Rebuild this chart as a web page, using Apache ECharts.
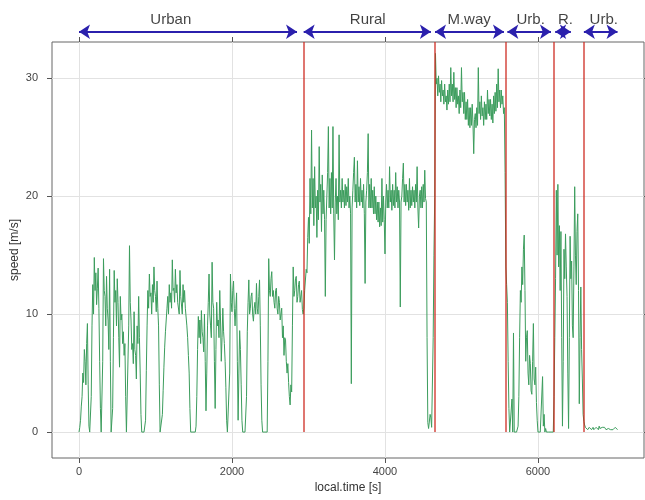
<!DOCTYPE html>
<html>
<head>
<meta charset="utf-8">
<script src="https://cdn.jsdelivr.net/npm/echarts@6/dist/echarts.min.js"></script>
<style>
  html, body { margin: 0; padding: 0; background: #fff; }
  #chart { width: 645px; height: 500px; }
</style>
</head>
<body>
<div id="chart"></div>
<script>
// Vehicle speed log [m/s], one sample every 10 s, split by driving section.
const timeStep = 10;
const sectionStart = [0, 2940, 4660, 5600, 6220, 6600];

const urbanSpeed = [
  0, 0.4, 1.0, 2.2, 3.0, 5.0, 4.2, 7.0, 6.0, 4.0,
  7.5, 9.2, 4.0, 0.5, 0, 0, 3.0, 9.0, 12.5, 10.0,
  14.8, 12.0, 13.5, 10.8, 12.2, 13.9, 10.5, 6.0, 2.0, 0,
  0, 6.0, 14.7, 12.0, 11.5, 9.0, 13.2, 10.5, 9.5, 7.0,
  13.8, 6.0, 0, 0, 2.0, 8.0, 13.7, 11.0, 12.0, 9.0,
  13.0, 11.0, 8.0, 5.5, 11.5, 9.5, 10.0, 7.5, 8.5, 6.5,
  7.5, 3.0, 0, 0, 0, 9.0, 15.8, 11.0, 9.5, 7.0,
  7.5, 5.8, 10.2, 7.0, 6.5, 4.5, 9.0, 7.5, 11.5, 8.0,
  5.0, 1.5, 0, 0, 0, 0, 0, 1.0, 5.2, 9.0,
  12.0, 10.5, 13.4, 11.5, 11.8, 10.0, 12.5, 11.0, 14.0, 12.0,
  11.5, 10.2, 12.8, 10.5, 9.0, 4.0, 0, 0, 0, 1.5,
  3.5, 5.5, 7.2, 8.5, 9.5, 10.5, 11.5, 10.0, 12.5, 11.0,
  11.8, 10.5, 14.6, 12.0, 12.2, 11.0, 13.8, 11.8, 12.5, 11.0,
  11.0, 10.0, 13.7, 11.5, 11.5, 10.0, 12.5, 11.0, 12.0, 10.5,
  10.5, 9.0, 8.0, 6.5, 5.0, 2.0, 0, 0, 0, 0,
  0, 0, 0, 0.5, 3.0, 7.0, 9.8, 8.0, 9.5, 7.5,
  10.3, 8.5, 8.0, 6.8, 10.0, 6.0, 1.8, 5.0, 9.0, 11.0,
  13.4, 10.0, 9.0, 8.0, 14.4, 11.0, 10.5, 6.0, 2.0, 7.0,
  11.0, 9.0, 9.5, 8.0, 12.0, 9.5, 6.0, 8.0, 10.5, 8.5,
  7.5, 6.0, 3.8, 1.0, 0, 0, 0, 5.0, 13.4, 11.0,
  10.2, 12.0, 12.8, 10.5, 9.0, 10.5, 11.8, 6.0, 1.0, 5.0,
  8.6, 7.0, 4.0, 1.0, 0, 0, 0, 0, 0, 3.0,
  8.5, 11.0, 12.9, 10.0, 10.5, 11.5, 11.8, 10.0, 9.4, 10.5,
  11.0, 10.0, 12.6, 10.5, 10.0, 11.5, 12.9, 9.0, 4.0, 1.0,
  0, 0, 0, 0, 0, 0, 0, 6.0, 14.7, 12.0,
  11.5, 13.0, 13.6, 11.5, 12.0, 11.0, 10.5, 12.0, 12.2, 10.5,
  10.0, 11.5, 11.0, 9.5, 9.5, 10.5, 8.0, 9.0, 6.5, 8.0,
  7.8, 6.0, 5.0, 5.8, 4.2, 3.0, 2.3, 4.0, 3.4, 9.0,
  14.0, 11.5, 12.0, 13.0, 13.2, 11.0, 11.5, 12.5, 12.8, 11.0,
  11.0, 12.0, 10.4, 10.0
];

const ruralSpeed = [
  10.5, 12.0, 12.0, 13.8, 13.5, 16.5, 18.2, 16.0, 21.5, 18.5,
  25.6, 19.0, 21.5, 17.5, 22.5, 19.0, 20.0, 16.5, 20.5, 18.0,
  24.2, 19.5, 21.0, 17.0, 21.8, 18.5, 20.5, 18.0, 11.5, 18.0,
  20.0, 22.0, 25.9, 19.0, 21.5, 18.5, 22.0, 19.0, 25.9, 18.5,
  14.6, 19.5, 21.5, 18.5, 20.0, 18.0, 25.2, 19.5, 20.5, 19.0,
  21.5, 19.5, 20.5, 19.0, 21.0, 19.2, 20.8, 19.5, 21.5, 19.0,
  20.0, 18.5, 4.1, 19.0, 20.5, 22.0, 23.3, 19.5, 21.0, 19.0,
  23.0, 19.5, 20.8, 19.2, 21.5, 19.5, 20.5, 19.0, 21.0, 18.5,
  12.6, 19.5, 20.5, 22.0, 25.3, 19.0, 21.0, 19.0, 21.5, 19.0,
  20.5, 18.5, 20.8, 18.5, 20.0, 18.0, 19.5, 17.8, 19.5, 17.4,
  19.0, 17.5, 21.5, 17.8, 20.0, 18.0, 15.1, 19.5, 21.0, 19.0,
  20.5, 19.0, 22.5, 19.5, 20.5, 18.8, 21.0, 19.2, 20.5, 19.0,
  22.0, 19.5, 20.8, 19.0, 20.5, 19.5, 10.6, 19.5, 20.0, 21.5,
  22.8, 19.5, 21.0, 19.2, 21.0, 19.5, 20.5, 18.8, 21.5, 19.0,
  20.5, 19.2, 20.8, 19.5, 20.5, 19.0, 21.0, 19.5, 22.5, 19.0,
  17.3, 20.0, 20.5, 19.0, 20.8, 19.0, 21.0, 19.5, 22.2, 19.8,
  19.5, 8.0, 0.8, 0.3, 0.3, 1.5, 1.2, 0.4, 0.5, 8.0,
  15.0, 19.9
];

const motorwaySpeed = [
  32.1, 29.5, 30.0, 28.5, 30.2, 28.8, 29.5, 28.0, 29.8, 28.5,
  29.0, 27.8, 29.5, 28.0, 28.5, 27.3, 29.0, 27.8, 29.5, 28.0,
  30.9, 28.5, 29.5, 28.0, 30.5, 28.2, 29.2, 27.5, 29.2, 27.8,
  28.5, 27.0, 29.0, 27.5, 30.9, 28.0, 28.8, 27.0, 28.8, 26.5,
  28.0, 26.5, 28.2, 26.0, 27.5, 25.8, 27.5, 26.0, 27.8, 26.2,
  23.6, 26.5, 27.0, 25.8, 27.5, 26.0, 30.9, 27.0, 28.0, 26.5,
  28.5, 26.8, 27.5, 26.0, 28.0, 26.5, 27.8, 26.5, 29.0, 27.0,
  28.2, 26.8, 28.2, 26.5, 27.8, 26.2, 28.5, 27.0, 28.8, 27.2,
  29.5, 27.5, 30.8, 28.0, 29.0, 27.5, 29.0, 27.8, 28.5, 27.0,
  27.5, 22.0, 14.0, 12.5
];

const urbanSpeed2 = [
  11.0, 6.0, 2.0, 0, 0, 0, 2.8, 0, 8.4, 0,
  0, 0, 0, 0, 0.5, 3.0, 8.0, 12.0, 11.0, 14.0,
  12.5, 15.5, 16.7, 12.0, 6.0, 8.0, 8.6, 5.0, 4.0, 6.5,
  5.8, 3.5, 3.2, 6.0, 9.2, 4.5, 4.0, 5.5, 2.5, 1.0,
  0, 0, 0, 0, 0, 0, 4.7, 0.5, 1.5, 0,
  0.3, 0, 0, 0, 0, 0, 0, 0, 0, 0,
  0, 3.0
];

const ruralSpeed2 = [
  8.0, 13.0, 20.5, 15.0, 21.0, 14.0, 17.5, 12.0, 17.0, 8.0,
  0.5, 6.0, 15.5, 13.0, 16.8, 14.0, 11.5, 5.0, 0.3, 8.0,
  16.6, 13.0, 14.5, 9.0, 8.0, 14.0, 20.8, 15.0, 12.5, 17.0,
  18.5, 12.0, 2.4, 8.0, 12.3, 7.0, 4.5, 1.5
];

const urbanSpeed3 = [
  0.9, 0.6, 0.4, 0.3, 0.4, 0.2, 0.3, 0.4, 0.4, 0.3,
  0.2, 0.3, 0.4, 0.2, 0.3, 0.3, 0.4, 0.3, 0.3, 0.2,
  0.5, 0.3, 0.2, 0.3, 0.4, 0.3, 0.3, 0.4, 0.4, 0.2,
  0.2, 0.3, 0.3, 0.4, 0.2, 0.2, 0.3, 0.3, 0.2, 0.2,
  0.3, 0.4, 0.4, 0.3, 0.2
];

// Section boundaries [s] and the driving phases annotated above the panel
const boundaryTime = [2937, 4654, 5582, 6209, 6595];
const segmentName = ['Urban', 'Rural', 'M.way', 'Urb.', 'R.', 'Urb.'];
const segmentFrom = [0, 2937, 4654, 5600, 6225, 6600];
const segmentTo = [2850, 4600, 5555, 6170, 6430, 7040];
const segmentLabelTime = [1200, 3775, 5100, 5905, 6360, 6860];

const xTicks = [0, 2000, 4000, 6000];
const yTicks = [0, 10, 20, 30];

// ---- assemble [time, speed] pairs ----
const sections = [urbanSpeed, ruralSpeed, motorwaySpeed, urbanSpeed2, ruralSpeed2, urbanSpeed3];
const speedData = [];
sections.forEach((vals, s) => {
  vals.forEach((v, i) => speedData.push([sectionStart[s] + i * timeStep, v]));
});

const X_MIN = -353, X_MAX = 7386;
const Y_MIN = -2.2, Y_MAX = 33.07;
const ARROW_LEVEL = 0.245, LABEL_LEVEL = 0.53;

const FONT = 'Liberation Sans, Arial, Helvetica, sans-serif';
const AXIS_GREY = '#555';

const chart = echarts.init(document.getElementById('chart'), null, { renderer: 'canvas' });

const hiddenLine = { show: false, onZero: false };
const plain = v => String(v);

chart.setOption({
  animation: false,
  backgroundColor: '#fff',
  grid: [
    { left: 52, right: 1, top: 42, bottom: 42, containLabel: false, outerBoundsMode: 'none',
      show: true, borderColor: '#666', borderWidth: 1, backgroundColor: 'transparent' },
    { left: 52, right: 1, top: 0, height: 42, containLabel: false, outerBoundsMode: 'none', show: false }
  ],
  xAxis: [
    {
      type: 'value', gridIndex: 0, min: X_MIN, max: X_MAX, position: 'bottom',
      name: 'local.time [s]', nameLocation: 'middle', nameGap: 24,
      nameTextStyle: { fontFamily: FONT, fontSize: 12, color: '#333' },
      axisLine: hiddenLine,
      axisTick: { show: true, inside: false, length: 5, customValues: xTicks, lineStyle: { color: AXIS_GREY } },
      axisLabel: { show: true, customValues: xTicks, formatter: plain, margin: 8, fontFamily: FONT, fontSize: 11, color: '#444' },
      splitLine: { show: true, lineStyle: { color: '#e2e2e2', width: 1 } }
    },
    {
      type: 'value', gridIndex: 0, min: X_MIN, max: X_MAX, position: 'top',
      axisLine: hiddenLine,
      axisTick: { show: true, inside: false, length: 5, customValues: xTicks, lineStyle: { color: AXIS_GREY } },
      axisLabel: { show: false },
      splitLine: { show: false }
    },
    {
      type: 'value', gridIndex: 1, min: X_MIN, max: X_MAX, show: false,
      axisLine: hiddenLine
    }
  ],
  yAxis: [
    {
      type: 'value', gridIndex: 0, min: Y_MIN, max: Y_MAX, position: 'left',
      name: 'speed [m/s]', nameLocation: 'middle', nameGap: 31, nameRotate: 90,
      nameMoveOverlap: false,
      nameTextStyle: { fontFamily: FONT, fontSize: 12, color: '#333' },
      axisLine: hiddenLine,
      axisTick: { show: true, inside: false, length: 5, customValues: yTicks, lineStyle: { color: AXIS_GREY } },
      axisLabel: { show: true, customValues: yTicks, formatter: plain, margin: 14, fontFamily: FONT, fontSize: 11, color: '#444' },
      splitLine: { show: true, lineStyle: { color: '#e2e2e2', width: 1 } }
    },
    {
      type: 'value', gridIndex: 0, min: Y_MIN, max: Y_MAX, position: 'right',
      axisLine: hiddenLine,
      axisTick: { show: true, inside: false, length: 5, customValues: yTicks, lineStyle: { color: AXIS_GREY } },
      axisLabel: { show: false },
      splitLine: { show: false }
    },
    {
      type: 'value', gridIndex: 1, min: 0, max: 1, show: false,
      axisLine: hiddenLine
    }
  ],
  series: [
    {
      name: 'speed',
      type: 'line',
      xAxisIndex: 0, yAxisIndex: 0,
      data: speedData,
      showSymbol: false,
      symbol: 'none',
      sampling: null,
      silent: true,
      lineStyle: { color: '#3c9d5d', width: 1 },
      markLine: {
        silent: true,
        animation: false,
        symbol: ['none', 'none'],
        label: { show: false },
        emphasis: { disabled: true },
        lineStyle: { color: 'rgba(204,40,30,0.85)', width: 1.5, type: 'solid' },
        data: boundaryTime.map(t => [{ coord: [t, 0] }, { coord: [t, Y_MAX] }])
      }
    },
    {
      name: 'phases',
      type: 'line',
      xAxisIndex: 2, yAxisIndex: 2,
      data: [],
      silent: true,
      markLine: {
        silent: true,
        animation: false,
        symbol: ['arrow', 'arrow'],
        symbolSize: 11,
        label: { show: false },
        emphasis: { disabled: true },
        lineStyle: { color: '#2b20ad', width: 2, type: 'solid' },
        itemStyle: { color: '#2b20ad' },
        data: segmentFrom.map((s, i) => [{ coord: [s, ARROW_LEVEL] }, { coord: [segmentTo[i], ARROW_LEVEL] }])
      }
    },
    {
      name: 'phaseNames',
      type: 'scatter',
      xAxisIndex: 2, yAxisIndex: 2,
      symbolSize: 0,
      silent: true,
      clip: false,
      label: {
        show: true, position: 'inside',
        formatter: p => p.name,
        fontFamily: FONT, fontSize: 15, color: '#111'
      },
      data: segmentName.map((n, i) => ({ name: n, value: [segmentLabelTime[i], LABEL_LEVEL] }))
    }
  ]
});
</script>
</body>
</html>
